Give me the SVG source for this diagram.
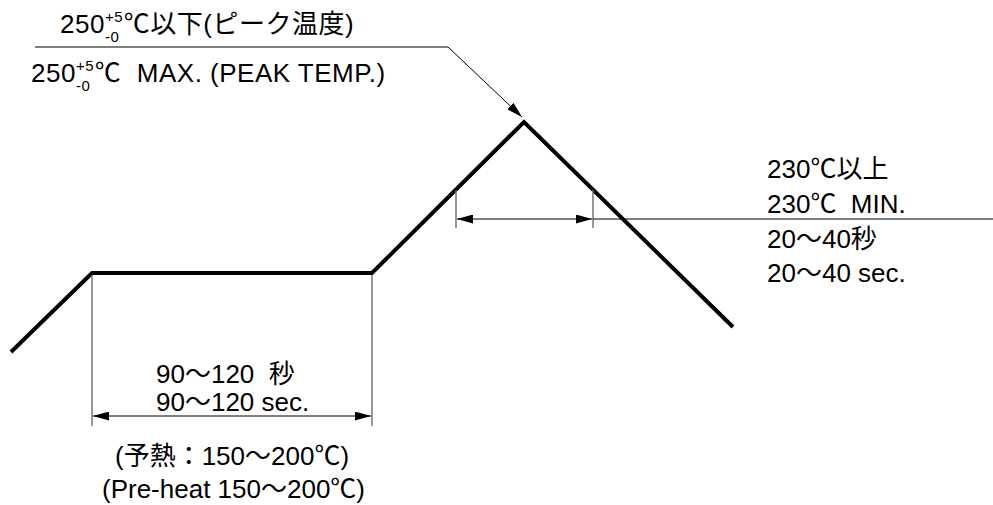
<svg xmlns="http://www.w3.org/2000/svg" width="993" height="505" viewBox="0 0 993 505">
<style>
text{font-family:"Liberation Sans","Noto Sans CJK JP",sans-serif;font-size:26px;fill:#000}
.sm{font-size:15px}
.wide{letter-spacing:0.5px}
.prof{fill:none;stroke:#000;stroke-width:4;stroke-linejoin:miter}
.thin{fill:none;stroke:#000;stroke-width:1}
.ext{fill:none;stroke:#777;stroke-width:1.5}
</style>
<defs>
<marker id="ah" viewBox="0 0 16 9" refX="16" refY="4.5" markerWidth="16" markerHeight="9" markerUnits="userSpaceOnUse" orient="auto-start-reverse">
<path d="M0,0 L16,4.5 L0,9 Z" fill="#000"/>
</marker>
</defs>
<g id="profile">
<polyline class="prof" points="11,352 92,273 372,273 524,122 733,327"/>
</g>
<g id="connectors">
<polyline class="thin" points="35,47 448,47 522,117" marker-end="url(#ah)"/>
<line class="ext" x1="456" y1="190" x2="456" y2="228"/>
<line class="ext" x1="593" y1="190" x2="593" y2="228"/>
<line class="thin" x1="457" y1="219" x2="592" y2="219" marker-start="url(#ah)" marker-end="url(#ah)"/>
<line class="thin" x1="593" y1="219" x2="993" y2="219"/>
<line class="ext" x1="92" y1="275" x2="92" y2="426"/>
<line class="ext" x1="372" y1="275" x2="372" y2="426"/>
<line class="thin" x1="93" y1="416" x2="371" y2="416" marker-start="url(#ah)" marker-end="url(#ah)"/>
</g>
<g id="peak-label">
<text class="wide" x="60" y="33">250<tspan class="sm" dy="-11">+5</tspan><tspan class="sm" dx="-18" dy="20">-0</tspan><tspan dx="4.5" dy="-9">℃以下(ピーク温度)</tspan></text>
<text class="wide" x="31" y="82" xml:space="preserve">250<tspan class="sm" dy="-11">+5</tspan><tspan class="sm" dx="-18" dy="20">-0</tspan><tspan dx="4.5" dy="-9">℃  MAX. (PEAK TEMP.)</tspan></text>
</g>
<g id="reflow-label">
<text x="767" y="178">230℃以上</text>
<text x="767" y="213" xml:space="preserve">230℃  MIN.</text>
<text x="767" y="248">20～40秒</text>
<text x="767" y="282">20～40 sec.</text>
</g>
<g id="preheat-label">
<text x="156" y="383" xml:space="preserve">90～120  秒</text>
<text x="156" y="411">90～120 sec.</text>
<text x="115" y="465">(予熱：150～200℃)</text>
<text x="102" y="498">(Pre-heat 150～200℃)</text>
</g>
</svg>
